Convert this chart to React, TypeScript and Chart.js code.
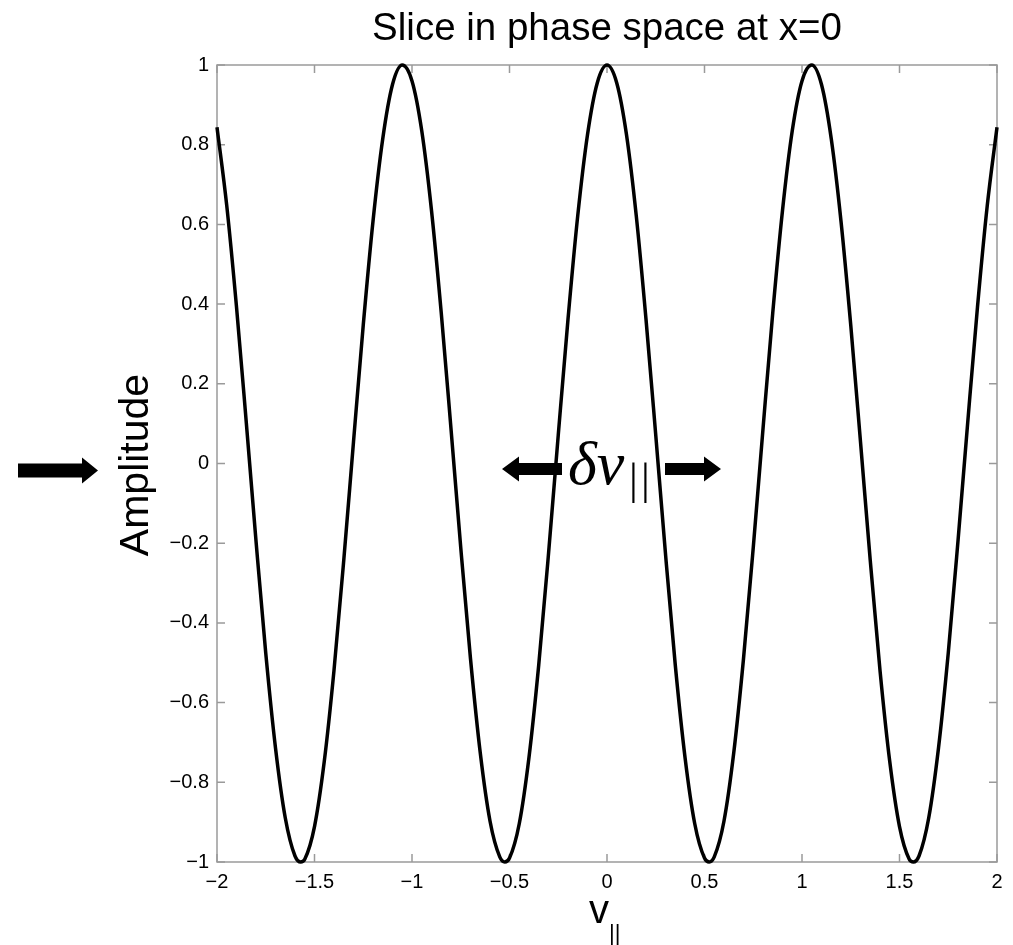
import React, { useEffect, useRef } from "react";
import { Chart, registerables } from "chart.js";

Chart.register(...registerables);

// v_parallel sample positions
const vPar: number[] = [
  -2, -1.95, -1.9, -1.85, -1.8, -1.75, -1.7, -1.65, -1.6, -1.571, -1.55, -1.5, -1.45, -1.4, -1.35, -1.3,
  -1.25, -1.2, -1.15, -1.1, -1.05, -1.0, -0.95, -0.9, -0.85, -0.8, -0.75, -0.7, -0.65, -0.6, -0.55,
  -0.524, -0.5, -0.45, -0.4, -0.35, -0.3, -0.25, -0.2, -0.15, -0.1, -0.05, 0,
  0.05, 0.1, 0.15, 0.2, 0.25, 0.3, 0.35, 0.4, 0.45, 0.5, 0.524, 0.55, 0.6, 0.65, 0.7, 0.75, 0.8,
  0.85, 0.9, 0.95, 1.0, 1.05, 1.1, 1.15, 1.2, 1.25, 1.3, 1.35, 1.4, 1.45, 1.5, 1.55, 1.571, 1.6,
  1.65, 1.7, 1.75, 1.8, 1.85, 1.9, 1.95, 2,
];

// Amplitude at each v_parallel above
const amplitude: number[] = [
  0.844, 0.647, 0.393, 0.104, -0.194, -0.476, -0.714, -0.889, -0.985, -1, -0.993, -0.911, -0.748, -0.519, -0.243, 0.054,
  0.347, 0.608, 0.815, 0.951, 1.0, 0.96, 0.835, 0.635, 0.378, 0.087, -0.211, -0.49, -0.726, -0.897, -0.987,
  -1, -0.99, -0.904, -0.737, -0.505, -0.227, 0.071, 0.362, 0.622, 0.825, 0.955, 1,
  0.955, 0.825, 0.622, 0.362, 0.071, -0.227, -0.505, -0.737, -0.904, -0.99, -1, -0.987, -0.897, -0.726, -0.49, -0.211, 0.087,
  0.378, 0.635, 0.835, 0.96, 1.0, 0.951, 0.815, 0.608, 0.347, 0.054, -0.243, -0.519, -0.748, -0.911, -0.993, -1, -0.985,
  -0.889, -0.714, -0.476, -0.194, 0.104, 0.393, 0.647, 0.844,
];

const xTicks: number[] = [-2, -1.5, -1, -0.5, 0, 0.5, 1, 1.5, 2];
const yTicks: number[] = [-1, -0.8, -0.6, -0.4, -0.2, 0, 0.2, 0.4, 0.6, 0.8, 1];

const titleText = "Slice in phase space at x=0";
const yLabel = "Amplitude";

const fmt = (v: number) => String(Number(v.toFixed(1))).replace("-", "\u2212");

const framePlugin = {
  id: "matlabFrame",
  beforeDatasetsDraw(chart: any) {
    const { ctx, chartArea } = chart;
    const { left, right, top, bottom } = chartArea;
    const xs = chart.scales.x;
    const ys = chart.scales.y;
    ctx.save();
    ctx.strokeStyle = "#9a9a9a";
    ctx.lineWidth = 1.5;
    ctx.strokeRect(left, top, right - left, bottom - top);
    const tl = 8;
    ctx.beginPath();
    xTicks.forEach((t) => {
      const px = xs.getPixelForValue(t);
      ctx.moveTo(px, bottom);
      ctx.lineTo(px, bottom - tl);
      ctx.moveTo(px, top);
      ctx.lineTo(px, top + tl);
    });
    yTicks.forEach((t) => {
      const py = ys.getPixelForValue(t);
      ctx.moveTo(left, py);
      ctx.lineTo(left + tl, py);
      ctx.moveTo(right, py);
      ctx.lineTo(right - tl, py);
    });
    ctx.stroke();
    ctx.restore();
  },
  afterDraw(chart: any) {
    const { ctx, chartArea } = chart;
    const cx = (chartArea.left + chartArea.right) / 2;
    ctx.save();
    ctx.fillStyle = "#000";
    // title
    ctx.font = '38.5px "Liberation Sans", Arial, sans-serif';
    ctx.textAlign = "center";
    ctx.textBaseline = "alphabetic";
    ctx.fillText(titleText, cx, 40);
    // y label
    ctx.save();
    ctx.translate(148, 465);
    ctx.rotate(-Math.PI / 2);
    ctx.font = '41px "Liberation Sans", Arial, sans-serif';
    ctx.textAlign = "center";
    ctx.fillText(yLabel, 0, 0);
    ctx.restore();
    // x label v_||
    ctx.textAlign = "left";
    ctx.font = '40px "Liberation Sans", Arial, sans-serif';
    ctx.fillText("v", 589, 923);
    ctx.font = '22px "Liberation Sans", Arial, sans-serif';
    ctx.fillText("||", 609, 940);

    // delta v_|| annotation
    ctx.font = 'italic 62px "Liberation Serif", "DejaVu Serif", serif';
    ctx.fillText("\u03b4v", 568, 484);
    ctx.font = '44px "Liberation Serif", "DejaVu Serif", serif';
    ctx.fillText("|", 629, 494);
    ctx.fillText("|", 641, 494);

    // arrows
    const arrow = (x0: number, x1: number, y: number, shaftH: number, headW: number, headH: number) => {
      const dir = Math.sign(x1 - x0);
      const hb = x1 - dir * headW;
      ctx.beginPath();
      ctx.moveTo(x0, y - shaftH / 2);
      ctx.lineTo(hb, y - shaftH / 2);
      ctx.lineTo(hb, y - headH / 2);
      ctx.lineTo(x1, y);
      ctx.lineTo(hb, y + headH / 2);
      ctx.lineTo(hb, y + shaftH / 2);
      ctx.lineTo(x0, y + shaftH / 2);
      ctx.closePath();
      ctx.fill();
    };
    arrow(18, 98, 470.5, 14, 16, 26);
    arrow(562, 502, 469, 12, 17, 25);
    arrow(665, 721, 469, 12, 17, 25);
    ctx.restore();
  },
};

export default function App() {
  const ref = useRef<HTMLCanvasElement | null>(null);
  useEffect(() => {
    if (!ref.current) return;
    const points = vPar.map((v, i) => ({ x: v, y: amplitude[i] }));
    const chart = new Chart(ref.current, {
      type: "line",
      data: {
        datasets: [
          {
            data: points,
            borderColor: "#000",
            borderWidth: 3.5,
            pointRadius: 0,
            cubicInterpolationMode: "monotone",
            fill: false,
            clip: false as any,
          },
        ],
      },
      options: {
        responsive: false,
        animation: false,
        events: [],
        layout: { padding: { left: 0, top: 65, right: 16, bottom: 0 } },
        plugins: { legend: { display: false }, title: { display: false }, tooltip: { enabled: false } },
        scales: {
          x: {
            type: "linear",
            min: -2,
            max: 2,
            afterBuildTicks: (s: any) => {
              s.ticks = xTicks.map((v) => ({ value: v }));
            },
            afterFit: (s: any) => {
              s.height = 83;
            },
            grid: { display: false, drawTicks: false },
            border: { display: false },
            ticks: {
              padding: 8,
              color: "#000",
              font: { family: '"Liberation Sans", Arial, sans-serif', size: 20 },
              callback: (v: any) => fmt(Number(v)),
              maxRotation: 0,
              autoSkip: false,
            },
          },
          y: {
            type: "linear",
            min: -1,
            max: 1,
            afterBuildTicks: (s: any) => {
              s.ticks = yTicks.map((v) => ({ value: v }));
            },
            afterFit: (s: any) => {
              s.width = 217;
            },
            grid: { display: false, drawTicks: false },
            border: { display: false },
            ticks: {
              padding: 8,
              color: "#000",
              font: { family: '"Liberation Sans", Arial, sans-serif', size: 20 },
              callback: (v: any) => fmt(Number(v)),
              autoSkip: false,
            },
          },
        },
      },
      plugins: [framePlugin],
    });
    return () => chart.destroy();
  }, []);
  return (
    <div style={{ position: "absolute", left: 0, top: 0, width: 1013, height: 945, background: "#fff" }}>
      <canvas ref={ref} width={1013} height={945} style={{ width: 1013, height: 945, display: "block" }} />
    </div>
  );
}
